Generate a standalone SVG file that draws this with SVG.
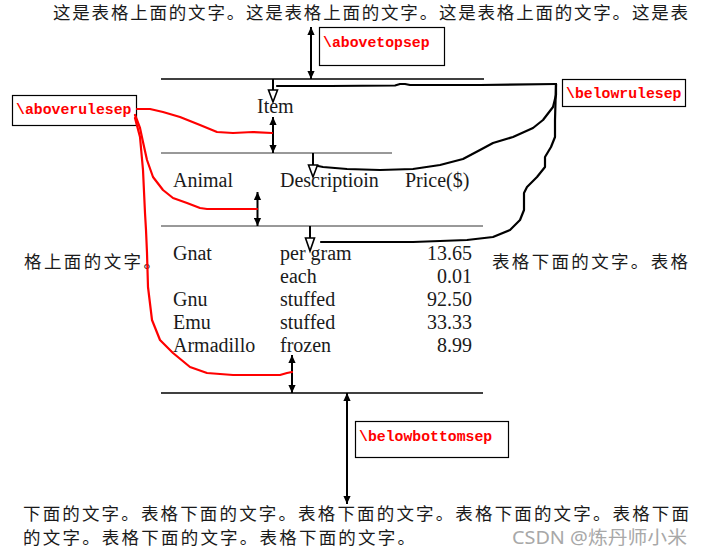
<svg xmlns="http://www.w3.org/2000/svg" width="701" height="554" viewBox="0 0 701 554">
<style>
.cjk{font-family:"Noto Sans CJK SC","Noto Sans CJK JP",sans-serif;font-size:17.5px;fill:#1a1a1a}
.tb{font-family:"Liberation Serif","DejaVu Serif",serif;font-size:20px;fill:#1a1a1a}
.lbl{font-family:"Liberation Mono","DejaVu Sans Mono",monospace;font-size:14.8px;font-weight:bold;fill:#ff0000}
.box{fill:#ffffff;stroke:#000;stroke-width:1.2}
.rule{stroke:#000;stroke-width:1.6}
.thin{stroke:#333;stroke-width:1}
.dbl{stroke:#000;stroke-width:2;fill:none;marker-start:url(#ah);marker-end:url(#ah)}
.vl{stroke:#000;stroke-width:2;fill:none}
.tri{fill:#fff;stroke:#000;stroke-width:1.6}
.hand{stroke:#000;stroke-width:2.2;fill:none;stroke-linejoin:round;stroke-linecap:round}
.red{stroke:#ff0000;stroke-width:2.2;fill:none;stroke-linejoin:round;stroke-linecap:round}
</style>
<defs>
<marker id="ah" viewBox="0 0 10 10" refX="10" refY="5" markerWidth="10" markerHeight="8" markerUnits="userSpaceOnUse" orient="auto-start-reverse"><path d="M0,0.5 L10,5 L0,9.5 z" fill="#000"/></marker>
</defs>
<rect width="701" height="554" fill="#fff"/>
<g id="surround-text">
<text class="cjk" x="53" y="19" textLength="635" lengthAdjust="spacing">这是表格上面的文字。这是表格上面的文字。这是表格上面的文字。这是表</text>
<text class="cjk" x="24" y="268" textLength="137" lengthAdjust="spacing">格上面的文字。</text>
<text class="cjk" x="492" y="268" textLength="196" lengthAdjust="spacing">表格下面的文字。表格</text>
<text class="cjk" x="23" y="520" textLength="666" lengthAdjust="spacing">下面的文字。表格下面的文字。表格下面的文字。表格下面的文字。表格下面</text>
<text class="cjk" x="23" y="544" textLength="392" lengthAdjust="spacing">的文字。表格下面的文字。表格下面的文字。</text>
<text x="512" y="544" font-family="'Noto Sans','Noto Sans CJK SC',sans-serif" font-size="18" fill="#a8a8a8" textLength="175" lengthAdjust="spacingAndGlyphs">CSDN @炼丹师小米</text>
</g>
<g id="table">
<line class="rule" x1="161" y1="79" x2="484" y2="79"/>
<line class="thin" x1="161" y1="153" x2="392" y2="153"/>
<line class="thin" x1="161" y1="226" x2="483" y2="226"/>
<line class="rule" x1="161" y1="393" x2="483" y2="393"/>
<text class="tb" x="257" y="113">Item</text>
<text class="tb" x="173" y="187">Animal</text>
<text class="tb" x="280" y="187">Descriptioin</text>
<text class="tb" x="405" y="187">Price($)</text>
<text class="tb" x="173" y="260">Gnat</text>
<text class="tb" x="280" y="260">per gram</text>
<text class="tb" x="472" y="260" text-anchor="end">13.65</text>
<text class="tb" x="280" y="283">each</text>
<text class="tb" x="472" y="283" text-anchor="end">0.01</text>
<text class="tb" x="173" y="306">Gnu</text>
<text class="tb" x="280" y="306">stuffed</text>
<text class="tb" x="472" y="306" text-anchor="end">92.50</text>
<text class="tb" x="173" y="329">Emu</text>
<text class="tb" x="280" y="329">stuffed</text>
<text class="tb" x="472" y="329" text-anchor="end">33.33</text>
<text class="tb" x="173" y="352">Armadillo</text>
<text class="tb" x="280" y="352">frozen</text>
<text class="tb" x="472" y="352" text-anchor="end">8.99</text>
</g>
<g id="label-abovetopsep">
<rect class="box" x="319.5" y="27.5" width="125" height="38"/>
<text class="lbl" x="323" y="47">\abovetopsep</text>
</g>
<g id="label-aboverulesep">
<rect class="box" x="12.5" y="95.5" width="124" height="30"/>
<text class="lbl" x="16" y="114">\aboverulesep</text>
</g>
<g id="label-belowrulesep">
<rect class="box" x="562.5" y="79.5" width="123" height="27"/>
<text class="lbl" x="566" y="98">\belowrulesep</text>
</g>
<g id="label-belowbottomsep">
<rect class="box" x="355.5" y="421.5" width="153" height="36"/>
<text class="lbl" x="359" y="441">\belowbottomsep</text>
</g>
<g id="connectors">
<line class="dbl" x1="311" y1="27" x2="311" y2="79"/>
<line class="dbl" x1="273" y1="117" x2="273" y2="153"/>
<line class="dbl" x1="257.5" y1="192" x2="257.5" y2="226"/>
<line class="dbl" x1="292" y1="355" x2="292" y2="393"/>
<line class="dbl" x1="347" y1="393" x2="347" y2="504"/>
<line class="vl" x1="273" y1="79" x2="273" y2="90"/>
<polygon class="tri" points="268.5,90 277.5,90 273,102"/>
<line class="vl" x1="313" y1="153" x2="313" y2="165"/>
<polygon class="tri" points="308.5,165 317.5,165 313,177"/>
<line class="vl" x1="310" y1="226" x2="310" y2="238"/>
<polygon class="tri" points="305.5,238 314.5,238 310,251"/>
<path class="hand" d="M277,86 L330,86 L395,85.5 L400,84 L405,84 L410,85 L480,85 L556,84"/>
<path class="hand" d="M556,84 L556,95 L553,107 L543,120 L533,128 L513,137 L493,143 L480,150 L463,159 L440,165 L413,169 L380,170 L347,169 L323,167 L318,166"/>
<path class="hand" d="M556,84 L555,120 L555,137 L551,147 L545,157 L545,167 L537,177 L527,187 L524,193 L524,210 L520,220 L510,230 L493,237 L467,240 L413,242 L347,242 L321,242"/>
<path class="red" d="M137,109 L150,109 L163,112 L180,117 L200,125 L217,132 L233,133 L253,132 L272,133"/>
<path class="red" d="M135,115 L137,120 L140,128 L143,142 L147,160 L153,177 L163,190 L173,198 L187,203 L200,208 L207,209 L233,209 L257,209"/>
<path class="red" d="M135,118 L140,137 L143,170 L145,213 L146,230 L147,253 L148,287 L152,320 L160,340 L173,353 L190,367 L207,373 L233,375 L280,375 L287,373 L292,372"/>
</g>
</svg>
